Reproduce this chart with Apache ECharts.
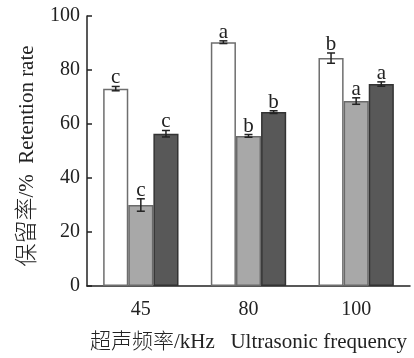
<!DOCTYPE html>
<html>
<head>
<meta charset="utf-8">
<style>
  html, body { margin: 0; padding: 0; background: #fff; }
  #chart { width: 414px; height: 358px; }
</style>
<script src="https://cdn.jsdelivr.net/npm/echarts@6/dist/echarts.min.js"></script>
</head>
<body>
<div id="chart"></div>
<script>
// Ultrasonic frequency groups
const categories = ['45', '80', '100'];
// Retention rate (%) for the three treatments
const whiteValues = [73.1, 90.3, 84.4];
const grayValues = [30.0, 55.6, 68.5];
const darkValues = [56.4, 64.4, 74.8];
// Standard errors
const whiteErrors = [0.8, 0.5, 1.9];
const grayErrors = [2.3, 0.5, 1.2];
const darkErrors = [1.2, 0.5, 0.8];
// Significance letters
const whiteLetters = ['c', 'a', 'b'];
const grayLetters = ['c', 'b', 'a'];
const darkLetters = ['c', 'b', 'a'];
// Y axis ticks
const yTicks = [0, 20, 40, 60, 80, 100];

const serif = "'Liberation Serif', 'Times New Roman', 'Noto Sans CJK SC', serif";
const barShare = 0.7; // 1 - barCategoryGap

function errorSeries(values, errors, letters, slot) {
  return {
    type: 'custom',
    z: 5,
    clip: false,
    data: values.map((v, i) => [i, v, errors[i]]),
    renderItem: function (params, api) {
      const idx = api.value(0);
      const v = api.value(1);
      const e = api.value(2);
      const band = api.size([1, 0])[0];
      const bw = band * barShare / 3;
      const top = api.coord([idx, v + e]);
      const bot = api.coord([idx, v - e]);
      const x = top[0] + (slot - 1) * bw;
      const cap = 4;
      const style = { stroke: '#222', lineWidth: 1.5 };
      return {
        type: 'group',
        children: [
          { type: 'line', shape: { x1: x, y1: top[1], x2: x, y2: bot[1] }, style: style },
          { type: 'line', shape: { x1: x - cap, y1: top[1], x2: x + cap, y2: top[1] }, style: style },
          { type: 'line', shape: { x1: x - cap, y1: bot[1], x2: x + cap, y2: bot[1] }, style: style },
          {
            type: 'text',
            x: x,
            y: top[1] + 2,
            style: {
              text: letters[idx],
              font: '21px ' + serif,
              fill: '#222',
              align: 'center',
              verticalAlign: 'bottom'
            }
          }
        ]
      };
    }
  };
}

const chart = echarts.init(document.getElementById('chart'), null, { renderer: 'canvas' });
chart.setOption({
  animation: false,
  backgroundColor: '#fff',
  grid: { left: 87, right: 4, top: 16, bottom: 64, containLabel: false },
  xAxis: {
    type: 'category',
    data: categories,
    boundaryGap: true,
    axisLine: { lineStyle: { color: '#222', width: 1.5 } },
    axisTick: { inside: true, length: 5, lineStyle: { color: '#222', width: 1.5 } },
    axisLabel: { color: '#222', fontSize: 20, fontFamily: serif, margin: 14 },
    name: '{c|超声频率}{l|/kHz   Ultrasonic frequency}',
    nameLocation: 'middle',
    nameGap: 46,
    nameTextStyle: {
      fontSize: 21,
      fontFamily: serif,
      color: '#222',
      rich: {
        c: { fontSize: 21, fontFamily: serif, fontWeight: 300, color: '#222' },
        l: { fontSize: 21, fontFamily: serif, color: '#222' }
      }
    }
  },
  yAxis: {
    type: 'value',
    min: yTicks[0],
    max: yTicks[yTicks.length - 1],
    interval: yTicks[1] - yTicks[0],
    splitLine: { show: false },
    axisLine: { show: true, lineStyle: { color: '#222', width: 1.5 } },
    axisTick: { show: true, inside: true, length: 5, lineStyle: { color: '#222', width: 1.5 } },
    axisLabel: { color: '#222', fontSize: 20, fontFamily: serif, margin: 7 },
    name: '{c|保留率}{l|/%  Retention rate}',
    nameLocation: 'middle',
    nameRotate: 90,
    nameGap: 47,
    nameTextStyle: {
      fontSize: 21,
      fontFamily: serif,
      color: '#222',
      padding: [0, 10, 0, 0],
      rich: {
        c: { fontSize: 23, fontFamily: serif, fontWeight: 300, color: '#222' },
        l: { fontSize: 21, fontFamily: serif, color: '#222' }
      }
    }
  },
  series: [
    {
      type: 'bar', data: whiteValues, barGap: '0%', barCategoryGap: '30%',
      itemStyle: { color: '#ffffff', borderColor: '#6e6e6e', borderWidth: 1.5 }
    },
    {
      type: 'bar', data: grayValues, barGap: '0%', barCategoryGap: '30%',
      itemStyle: { color: '#a8a8a8', borderColor: '#6a6a6a', borderWidth: 1.5 }
    },
    {
      type: 'bar', data: darkValues, barGap: '0%', barCategoryGap: '30%',
      itemStyle: { color: '#585858', borderColor: '#333333', borderWidth: 1.5 }
    },
    errorSeries(whiteValues, whiteErrors, whiteLetters, 0),
    errorSeries(grayValues, grayErrors, grayLetters, 1),
    errorSeries(darkValues, darkErrors, darkLetters, 2)
  ]
});
</script>
</body>
</html>
